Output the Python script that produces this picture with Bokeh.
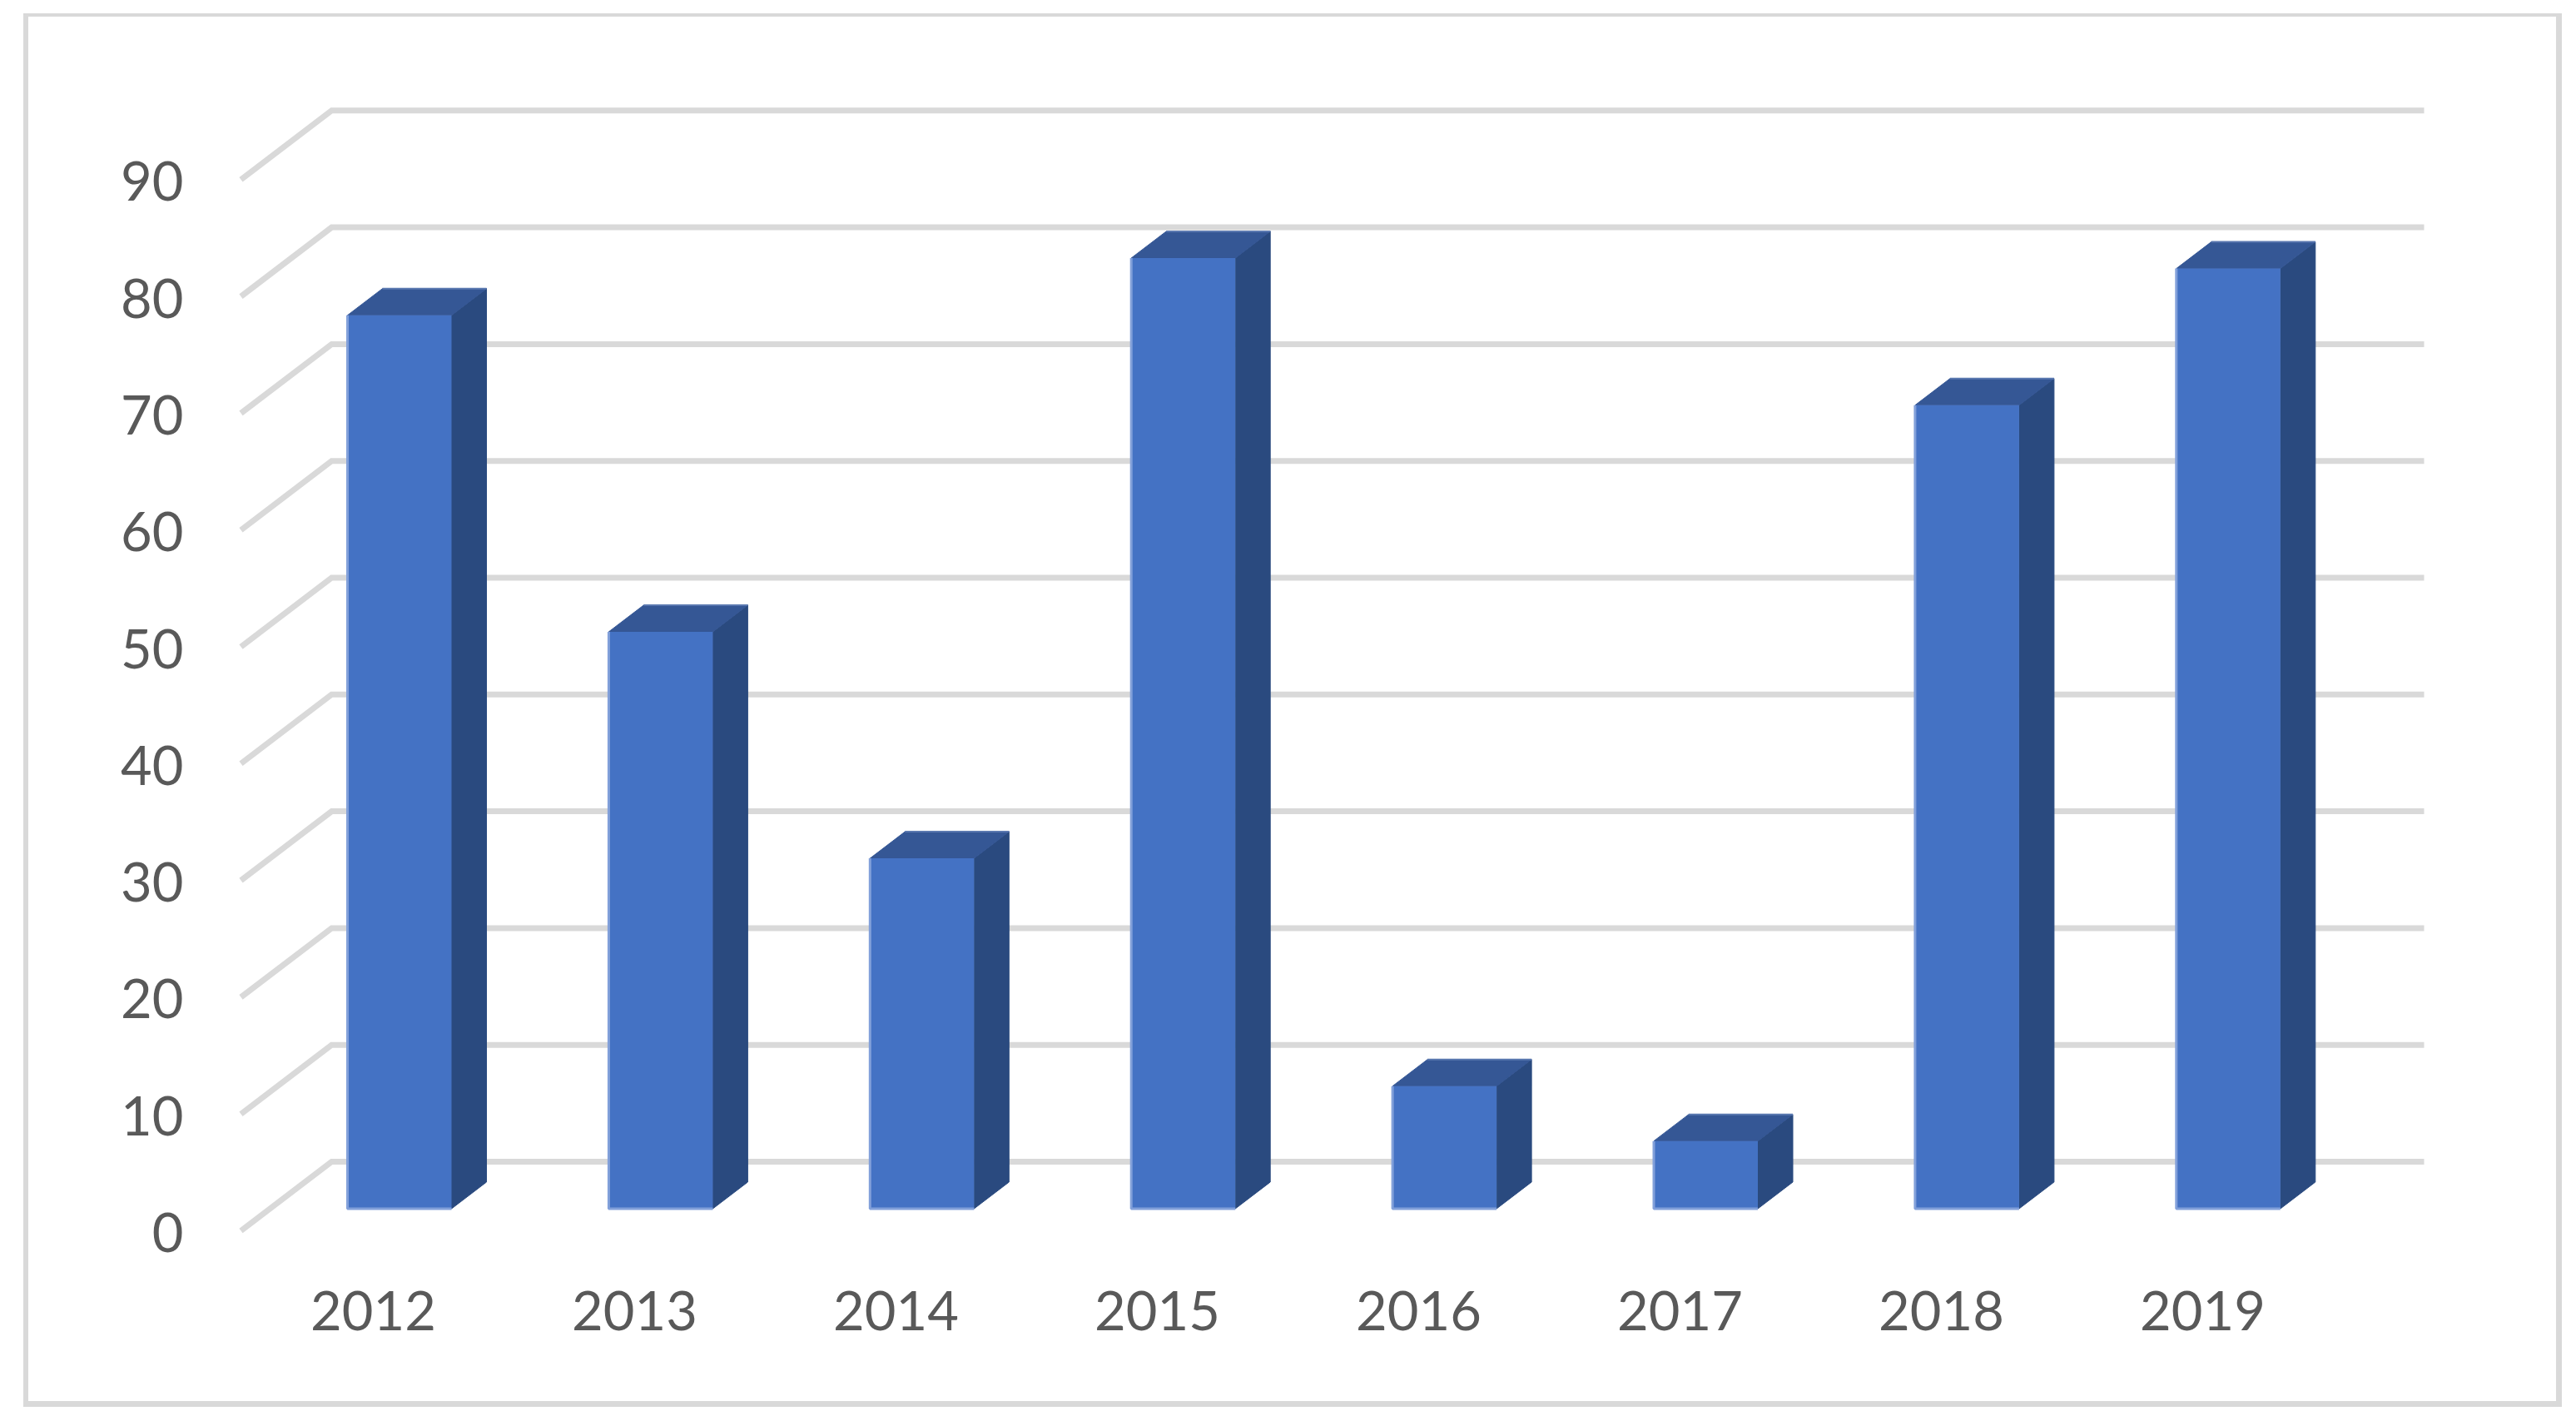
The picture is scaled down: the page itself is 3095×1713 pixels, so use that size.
from bokeh.plotting import figure
from bokeh.models import Range1d, LinearAxis, FixedTicker
from bokeh.embed import file_html
from bokeh.resources import INLINE

years = ["2012", "2013", "2014", "2015", "2016", "2017", "2018", "2019"]
values = [76.5, 49.4, 30.0, 81.4, 10.5, 5.8, 68.8, 80.5]
y_ticks = [0, 10, 20, 30, 40, 50, 60, 70, 80, 90]

# the figure box is the outer grey frame of the chart
OX, OY = 28, 16
W, H = 3078 - OX, 1690 - OY
BL, BT = 6, 4   # frame thickness, left and top
F_L, F_R, F_T, F_B = 240, 2930, 100, 1500
BAR0, STEP = 479.5, 313.9
BASE, UNIT = 1451.5, 14.03
FONT = "Lato"
FS = "65px"
TXT = "#595959"
GRID = "#d9d9d9"

def ix(px, c=BAR0, s=STEP):
    return (px - c) / s

def vy(py, b=BASE):
    return (b - py) / UNIT

p = figure(width=W, height=H, output_backend="svg", toolbar_location=None,
           x_range=Range1d(ix(F_L), ix(F_R)), y_range=Range1d(vy(F_B), vy(F_T)),
           min_border_left=F_L - OX - BL, min_border_right=W - (F_R - F_L) - (F_L - OX - BL),
           min_border_top=F_T - OY - BT, min_border_bottom=H - (F_B - F_T) - (F_T - OY - BT),
           x_axis_location=None, y_axis_location=None, outline_line_color=None,
           background_fill_color="white", border_fill_color="white",
           margin=(OY, 0, 0, OX),
           styles={"border-style": "solid", "border-color": GRID,
                   "border-width": f"{BT}px 7px 7px {BL}px", "box-sizing": "border-box"})
p.xgrid.visible = False
p.ygrid.visible = False

p.extra_y_ranges["wall"] = Range1d(vy(F_B, 1480), vy(F_T, 1480))
p.extra_x_ranges["cat"] = Range1d(ix(F_L, 448, 314), ix(F_R, 448, 314))

ya = LinearAxis(y_range_name="wall", ticker=FixedTicker(ticks=y_ticks))
xa = LinearAxis(x_range_name="cat", ticker=FixedTicker(ticks=list(range(len(years)))),
                major_label_overrides={i: y for i, y in enumerate(years)})
for a in (ya, xa):
    a.axis_line_color = None
    a.major_tick_line_color = None
    a.minor_tick_line_color = None
    a.major_label_text_font = FONT
    a.major_label_text_font_size = FS
    a.major_label_text_color = TXT
ya.major_label_standoff = 14
xa.major_label_standoff = 44
p.add_layout(ya, "left")
p.add_layout(xa, "below")

# gridlines: front edge, back wall corner, right end
front_off = vy(1478)
back_off = vy(1395)
gx = [[ix(289), ix(398), ix(2912)] for _ in y_ticks]
gy = [[t + front_off, t + back_off, t + back_off] for t in y_ticks]
p.multi_line(gx, gy, line_color=GRID, line_width=7, line_join="miter", line_cap="butt")

# bars
BW = 125 / STEP
DX = 42 / STEP
DV = 32 / UNIT
xs = list(range(len(values)))
for i, v in zip(xs, values):
    l, r = i - BW / 2, i + BW / 2
    p.patch([r, r + DX, r + DX, r], [0, DV, v + DV, v], fill_color="#2a4a7f", line_color="#2a4a7f", line_width=1)
    p.patch([l, l + DX, r + DX, r], [v, v + DV, v + DV, v], fill_color="#355795", line_color="#355795", line_width=1)
    p.line([l + DX, r + DX], [v + DV, v + DV], line_color="#5a78b0", line_width=2)
p.vbar(x=xs, top=values, bottom=0, width=BW, fill_color="#4472c4", line_color=None)
for i, v in zip(xs, values):
    l, r = i - BW / 2, i + BW / 2
    p.line([l, l, r], [v, 0, 0], line_color="#82a0da", line_width=3)

open("out.html", "w").write(file_html(p, INLINE))
